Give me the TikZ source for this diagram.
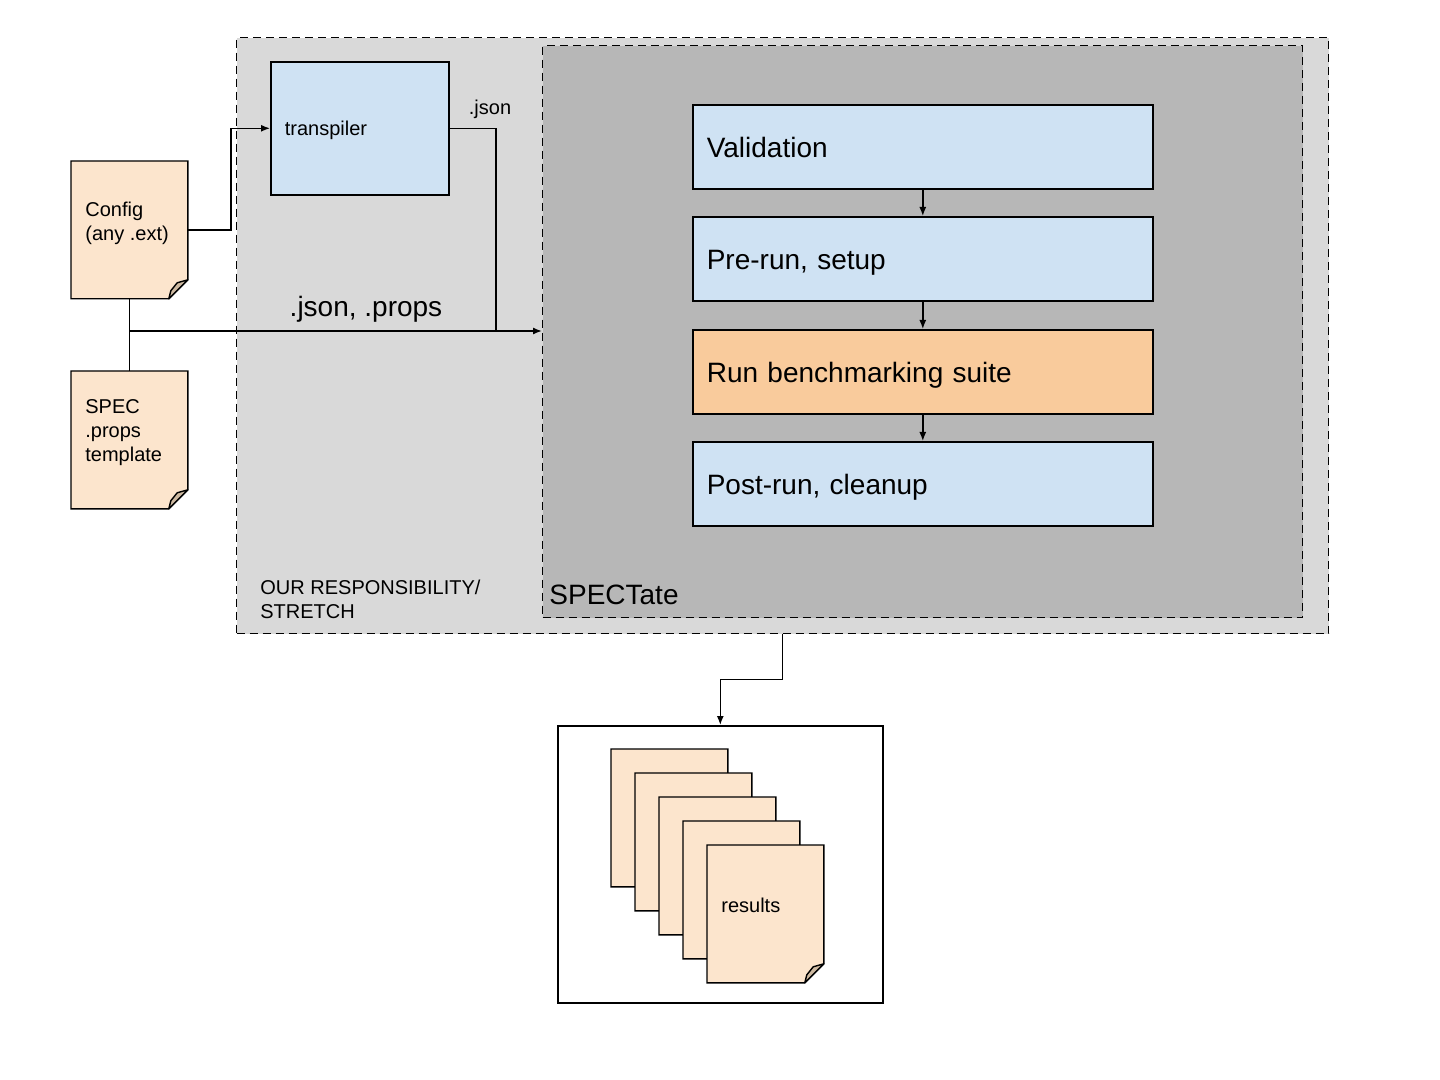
\documentclass[tikz,border=0pt]{standalone}
\usepackage{fontspec}
\setmainfont{Liberation Sans}
\usetikzlibrary{arrows.meta,calc}
\definecolor{outergray}{HTML}{D9D9D9}
\definecolor{innergray}{HTML}{B7B7B7}
\definecolor{stepblue}{HTML}{CFE2F3}
\definecolor{steporange}{HTML}{F9CB9C}
\definecolor{peach}{HTML}{FCE5CD}
\definecolor{foldtan}{HTML}{CDB9A1}
\newcommand\docshape[2][1]{%
  \draw[line width=0.7pt, fill=peach] (#2.north west) -- (#2.north east) -- ([yshift=9.5pt]#2.south east)
    -- ([xshift=-9.5pt]#2.south east) -- (#2.south west) -- cycle;
  \ifnum#1=1
  \draw[line width=0.7pt, fill=foldtan, line join=round] ([xshift=-9.5pt]#2.south east)
    -- ([xshift=-8.5pt,yshift=4pt]#2.south east)
    -- ([xshift=-5.3pt,yshift=8pt]#2.south east)
    -- ([yshift=9.5pt]#2.south east) -- cycle;
  \fi}
\begin{document}
\begin{tikzpicture}[x=0.5pt,y=-0.5pt,
  framebox/.style={draw=black, dashed, dash pattern=on 4pt off 2.5pt, line width=0.6pt, anchor=north west, inner sep=0pt},
  stepbox/.style={draw=black, line width=0.8pt, anchor=north west, minimum width=230pt, minimum height=42pt,
     text width=216pt, inner xsep=7pt, inner ysep=0pt, align=left, text height=11pt, text depth=0pt,
     font=\fontsize{14}{16}\selectfont},
  docbox/.style={anchor=north west, minimum width=58pt, minimum height=68.5pt, inner sep=0pt},
  small/.style={font=\fontsize{10}{12}\selectfont, inner sep=0pt, align=left},
  big/.style={font=\fontsize{14}{16}\selectfont, inner sep=0pt},
  conn/.style={line width=0.7pt},
  arr/.style={line width=0.7pt, -{Latex[length=4.5pt,width=3.5pt]}}
]
\useasboundingbox (0,0) rectangle (1440,1080);
\fill[white] (0,0) rectangle (1440,1080);

% containers
\node[framebox, fill=outergray, minimum width=546pt, minimum height=298pt] (outer) at (236,37) {};
\node[framebox, fill=innergray, minimum width=380pt, minimum height=286pt] (spectate) at (542,45) {};
\node[big, anchor=west] (spectatelbl) at (549,595) {SPECTate};
\node[small, anchor=west] (resp) at (260,599) {OUR RESPONSIBILITY/\\STRETCH};

% transpiler
\node[draw=black, line width=0.8pt, fill=stepblue, anchor=north west, minimum width=89pt, minimum height=66.5pt,
      text width=75pt, inner xsep=7pt, inner ysep=0pt, align=left, text height=7pt, text depth=0pt,
      font=\fontsize{10}{12}\selectfont] (tr) at (270,61) {transpiler};

% steps
\node[stepbox, fill=stepblue] (val) at (692,104) {Validation};
\node[stepbox, fill=stepblue] (pre) at (692,216) {Pre-run, setup};
\node[stepbox, fill=steporange] (run) at (692,329) {Run benchmarking suite};
\node[stepbox, fill=stepblue] (post) at (692,441) {Post-run, cleanup};

% input docs
\node[docbox] (cfg) at (71,161) {};
\docshape{cfg}
\node[small, anchor=west] (cfgt) at (85,223) {Config\\(any .ext)};
\node[docbox] (spec) at (71,371) {};
\docshape{spec}
\node[small, anchor=west] (spect) at (85,433) {SPEC\\.props\\template};

% results
\node[draw=black, line width=0.8pt, anchor=north west, minimum width=162.5pt, minimum height=138.5pt, inner sep=0pt] (resbox) at (557,725) {};
\node[docbox] (r1) at (611,749) {};
\docshape[0]{r1}
\node[docbox] (r2) at (635,773) {};
\docshape[0]{r2}
\node[docbox] (r3) at (659,797) {};
\docshape[0]{r3}
\node[docbox] (r4) at (683,821) {};
\docshape[0]{r4}
\node[docbox] (r5) at (707,845) {};
\docshape{r5}
\node[small, anchor=west] (rest) at (721,905) {results};

% connectors
\coordinate (j1) at (129,331);
\coordinate (j2) at (496,331);
\draw[arr] (cfg.east) -- ++(43,0) |- (tr.west);
\draw[conn] (cfg.south) -- (spec.north);
\draw[arr] (j1) -- (spectate.west |- j1);
\draw[conn] (tr.east) -| (j2);
\node[small, anchor=center] (jsonlbl) at (490,109) {.json};
\node[big, anchor=center] (jplbl) at (366,309) {.json, .props};
\draw[arr] (val) -- (pre);
\draw[arr] (pre) -- (run);
\draw[arr] (run) -- (post);
\draw[arr] (outer.south) -- ++(0,45) -| (resbox.north);
\end{tikzpicture}
\end{document}
